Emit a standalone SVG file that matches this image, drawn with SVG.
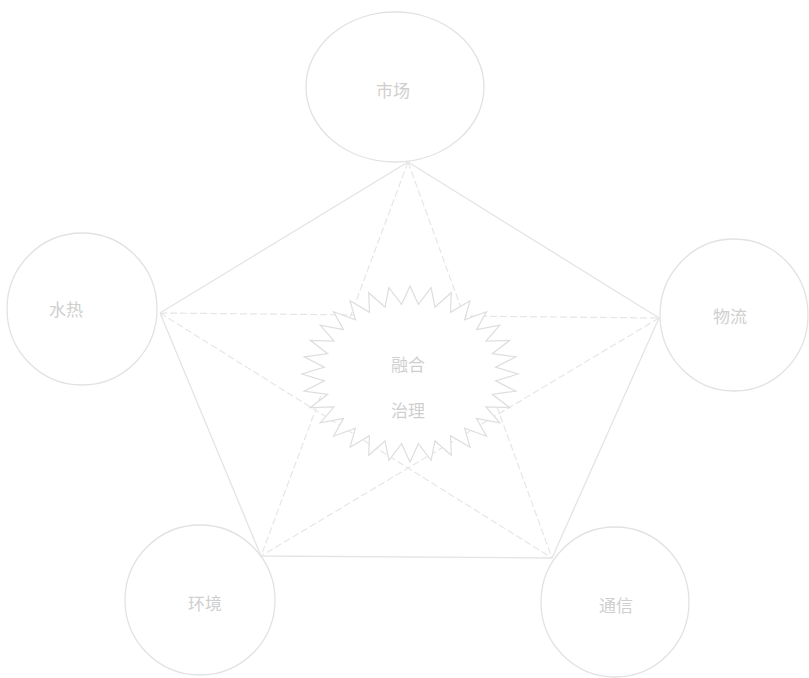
<svg xmlns="http://www.w3.org/2000/svg" width="809" height="678" viewBox="0 0 809 678">
<style>
.node{fill:none;stroke:#e2e2e2;stroke-width:1.3}
.lbl{font-family:"Noto Sans CJK SC","Noto Sans",sans-serif;font-size:17px;fill:#cfcfcf;text-anchor:middle;dominant-baseline:middle}
.edge{stroke:#e4e4e4;stroke-width:1.3;fill:none}
.dash{stroke:#e6e6e6;stroke-width:1.2;fill:none;stroke-dasharray:7 3}
.burst{fill:#fff;stroke:#dedede;stroke-width:1.2;stroke-linejoin:miter}
</style>
<rect width="809" height="678" fill="#fff"/>
<g id="connectors">
<polyline class="edge" points="160,313 408,162 659,318 552,558 261,556 160,313"/>
<path class="dash" d="M408,162 L261,556 M408,162 L552,558 M160,313 L659,318 M160,313 L552,558 M659,318 L261,556"/>
</g>
<g id="center">
<polygon class="burst" points="518,374 495.6,380.9 515.9,391.2 492.3,394.3 509.8,407.7 485.9,407 499.8,422.9 476.5,418.4 486.4,436.2 464.6,428.1 470,447.2 450.5,435.7 451.3,455.3 435,441 431.1,460.3 418.4,443.7 410,462 401.6,443.7 388.9,460.3 385,441 368.7,455.3 369.5,435.7 350,447.2 355.4,428.1 333.6,436.2 343.5,418.4 320.2,422.9 334.1,407 310.2,407.7 327.7,394.3 304.1,391.2 324.4,380.9 302,374 324.4,367.1 304.1,356.8 327.7,353.7 310.2,340.3 334.1,341 320.2,325.1 343.5,329.6 333.6,311.8 355.4,319.9 350,300.8 369.5,312.3 368.7,292.7 385,307 388.9,287.7 401.6,304.3 410,286 418.4,304.3 431.1,287.7 435,307 451.3,292.7 450.5,312.3 470,300.8 464.6,319.9 486.4,311.8 476.5,329.6 499.8,325.1 485.9,341 509.8,340.3 492.3,353.7 515.9,356.8 495.6,367.1"/>
<text class="lbl" x="408" y="366">融合</text>
<text class="lbl" x="408" y="412">治理</text>
</g>
<g id="n-top"><ellipse class="node" cx="395" cy="87" rx="89" ry="75"/><text class="lbl" x="393" y="92">市场</text></g>
<g id="n-left"><ellipse class="node" cx="82" cy="309" rx="75" ry="76"/><text class="lbl" x="66" y="311">水热</text></g>
<g id="n-right"><ellipse class="node" cx="734" cy="315" rx="74" ry="76"/><text class="lbl" x="730" y="318">物流</text></g>
<g id="n-bl"><ellipse class="node" cx="200" cy="600" rx="75" ry="75"/><text class="lbl" x="205" y="605">环境</text></g>
<g id="n-br"><ellipse class="node" cx="615" cy="602" rx="74" ry="75"/><text class="lbl" x="616" y="607">通信</text></g>
</svg>
